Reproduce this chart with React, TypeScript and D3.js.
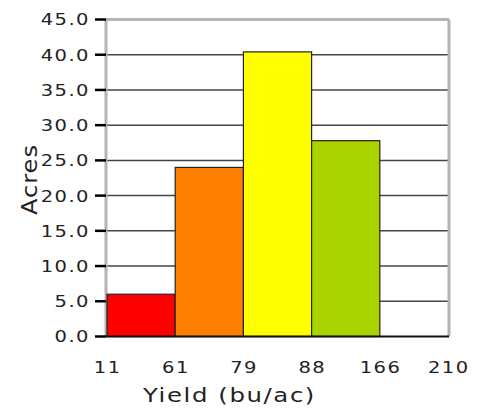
import React from "react";
import * as d3 from "d3";

const binEdges = ["11", "61", "79", "88", "166", "210"];
const bins = ["11-61", "61-79", "79-88", "88-166", "166-210"];
const acres = [6.0, 24.0, 40.4, 27.8, 0.0];
const colors = ["#ff0000", "#ff8000", "#ffff00", "#aad400", "#ffffff"];
const yTicks = [0, 5, 10, 15, 20, 25, 30, 35, 40, 45];

const W = 489;
const H = 412;
const left = 107;
const right = 448;
const top = 19.5;
const bottom = 336.5;
const font = "'DejaVu Sans', Verdana, sans-serif";
const sx = 1.22;

export default function App() {
  const x = d3.scaleBand<string>().domain(bins).range([left, right]).padding(0);
  const y = d3.scaleLinear().domain([0, 45]).range([bottom, top]);
  const edgeX = (i: number) => left + i * x.bandwidth();

  return (
    <svg width={W} height={H} style={{ position: "absolute", left: 0, top: 0, background: "#fff" }}>
      {/* grid lines */}
      {yTicks.slice(1, -1).map((t) => (
        <line key={"g" + t} x1={left} x2={right} y1={y(t)} y2={y(t)} stroke="#444" strokeWidth={1.5} />
      ))}
      {/* frame */}
      <line x1={left - 1} x2={right + 1} y1={top} y2={top} stroke="#b3b3b3" strokeWidth={3} />
      <line x1={left - 1} x2={left - 1} y1={top} y2={bottom} stroke="#b3b3b3" strokeWidth={3} />
      <line x1={right + 1} x2={right + 1} y1={top} y2={bottom} stroke="#b3b3b3" strokeWidth={3} />
      {/* bars */}
      {bins.map((b, i) => (
        <rect
          key={b}
          x={x(b)}
          y={y(acres[i])}
          width={x.bandwidth()}
          height={bottom - y(acres[i])}
          fill={colors[i]}
          stroke={acres[i] > 0 ? "#222" : "none"}
          strokeWidth={1.2}
        />
      ))}
      {/* bottom axis line */}
      <line x1={left - 1} x2={right + 1} y1={bottom} y2={bottom} stroke="#111" strokeWidth={2} />
      {/* y ticks */}
      {yTicks.map((t) => (
        <g key={"t" + t}>
          <line x1={95} x2={left - 1} y1={y(t)} y2={y(t)} stroke="#000" strokeWidth={2.5} />
          <text
            transform={`translate(90,${y(t)}) scale(${sx},1)`}
            dy="0.37em"
            textAnchor="end"
            fontFamily={font}
            fontSize={16}
            letterSpacing={1.2}
            fill="#222"
          >
            {t.toFixed(1)}
          </text>
        </g>
      ))}
      {/* x labels */}
      {binEdges.map((e, i) => (
        <text
          key={"x" + e}
          transform={`translate(${edgeX(i) + 0.7},373) scale(${sx},1)`}
          textAnchor="middle"
          fontFamily={font}
          fontSize={16}
          letterSpacing={1.2}
          fill="#222"
        >
          {e}
        </text>
      ))}
      <text
        transform={`translate(229.5,402) scale(${sx},1)`}
        textAnchor="middle"
        fontFamily={font}
        fontSize={20}
        letterSpacing={1.3}
        fill="#222"
      >
        Yield (bu/ac)
      </text>
      <text
        transform={`translate(37,179.5) rotate(-90) scale(1.15,1)`}
        textAnchor="middle"
        fontFamily={font}
        fontSize={21}
        letterSpacing={0.8}
        fill="#222"
      >
        Acres
      </text>
    </svg>
  );
}
